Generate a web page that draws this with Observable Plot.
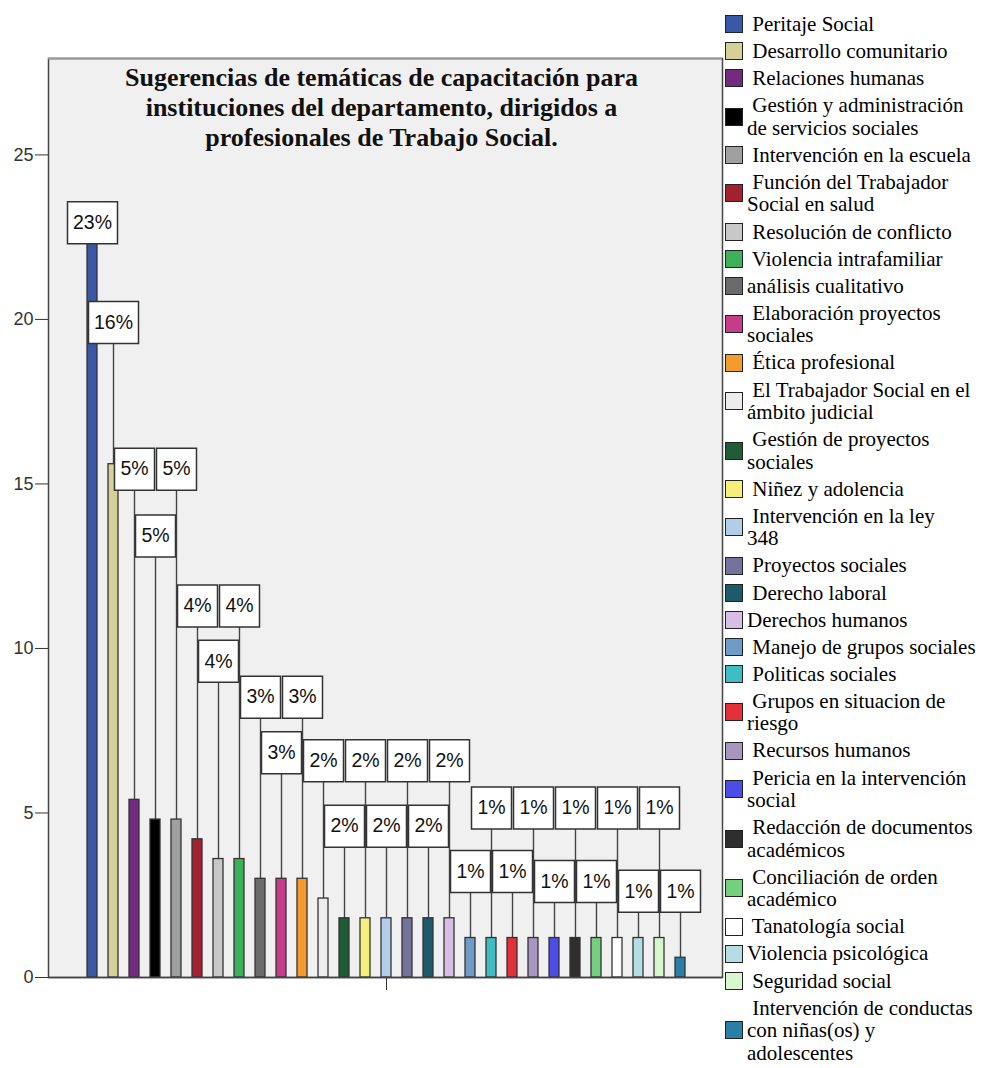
<!DOCTYPE html>
<html>
<head>
<meta charset="utf-8">
<script src="https://cdn.jsdelivr.net/npm/d3@7"></script>
<script src="https://cdn.jsdelivr.net/npm/@observablehq/plot@0.6"></script>
<style>
  html, body { margin: 0; padding: 0; background: #ffffff; }
  #wrap { position: relative; width: 982px; height: 1068px; overflow: hidden; }
  #chart { position: absolute; left: 0; top: 0; }
  #legend { position: absolute; left: 725px; top: 13px; font-family: "Liberation Serif", "Times New Roman", serif; font-size: 21px; color: #000; }
  .entry { display: flex; align-items: center; margin-bottom: 4.6px; }
  .sw { width: 16px; height: 16px; border: 1.5px solid #222; flex: none; }
  .txt { margin-left: 4px; white-space: pre; line-height: 22.5px; }
</style>
</head>
<body>
<div id="wrap">
  <div id="chart"></div>
  <div id="legend"></div>
</div>
<script>
const categories = [
  " Peritaje Social",
  " Desarrollo comunitario",
  " Relaciones humanas",
  " Gestión y administración\nde servicios sociales",
  " Intervención en la escuela",
  " Función del Trabajador\nSocial en salud",
  " Resolución de conflicto",
  " Violencia intrafamiliar",
  "análisis cualitativo",
  " Elaboración proyectos\nsociales",
  " Ética profesional",
  " El Trabajador Social en el\námbito judicial",
  " Gestión de proyectos\nsociales",
  " Niñez y adolencia",
  " Intervención en la ley\n348",
  " Proyectos sociales",
  " Derecho laboral",
  "Derechos humanos",
  " Manejo de grupos sociales",
  " Politicas sociales",
  " Grupos en situacion de\nriesgo",
  " Recursos humanos",
  " Pericia en la intervención\nsocial",
  " Redacción de documentos\nacadémicos",
  " Conciliación de orden\nacadémico",
  " Tanatología social",
  "Violencia psicológica",
  " Seguridad social",
  " Intervención de conductas\ncon niñas(os) y\nadolescentes"
];

const values = [22.8, 15.6, 5.4, 4.8, 4.8, 4.2, 3.6, 3.6, 3.0, 3.0, 3.0, 2.4,
  1.8, 1.8, 1.8, 1.8, 1.8, 1.8,
  1.2, 1.2, 1.2, 1.2, 1.2, 1.2, 1.2, 1.2, 1.2, 1.2, 0.6];

const pctLabels = ["23%", "16%", "5%", "5%", "5%", "4%", "4%", "4%", "3%", "3%", "3%", "2%",
  "2%", "2%", "2%", "2%", "2%", "2%",
  "1%", "1%", "1%", "1%", "1%", "1%", "1%", "1%", "1%", "1%", "1%"];

// level (in axis units) where each percentage label sits
const labelLevels = [22.3, 19.27, 14.81, 12.78, 14.81, 10.65, 8.97, 10.65, 7.88, 6.19, 7.88, 5.95,
  3.96, 5.95, 3.96, 5.95, 3.96, 5.95,
  2.58, 4.51, 2.58, 4.51, 2.28, 4.51, 2.28, 4.51, 1.98, 4.51, 1.98];

const colors = ["#3b58a8", "#d5cf98", "#722b7e", "#000000", "#a0a0a0", "#a3202e", "#c8c8c8", "#3db15a",
  "#6b6b6b", "#c53d8a", "#f39b2c", "#ececec", "#1e5b36", "#f4ef7a", "#b2cdea", "#74739c",
  "#1d5a6b", "#d8bde6", "#6e9cc7", "#3fbcc4", "#e3303a", "#a796c2", "#4c4ce8", "#2e2e2e",
  "#74cf7e", "#ffffff", "#b5dde4", "#d9f7cf", "#2b7ea5"];

const yTicks = [0, 5, 10, 15, 20, 25];
const yMax = 27.93;
const title = "Sugerencias de temáticas de capacitación para\ninstituciones del departamento, dirigidos a\nprofesionales de Trabajo Social.";

const data = categories.map((c, i) => ({cat: c, value: values[i], label: pctLabels[i], level: labelLevels[i]}));

const boxWide = {draw(ctx) { ctx.rect(-25, -21, 50, 42); }};
const boxNarrow = {draw(ctx) { ctx.rect(-20, -21, 40, 42); }};

const chart = Plot.plot({
  width: 725,
  height: 1068,
  marginTop: 58,
  marginBottom: 91,
  marginLeft: 48,
  marginRight: 3,
  style: {fontFamily: "'Liberation Sans', Arial, sans-serif", fontSize: "18px", color: "#333", background: "transparent", overflow: "visible"},
  x: {type: "band", domain: categories, range: [81.5, 690.5], paddingInner: 0.52, paddingOuter: 0.26,
      ticks: [categories[14]], tickFormat: () => "", tickSize: 13, label: null},
  y: {domain: [0, yMax], ticks: yTicks, tickSize: 13, tickPadding: 2, label: null},
  color: {domain: categories, range: colors},
  marks: [
    Plot.frame({fill: "#f0f0f0", stroke: "#444", strokeWidth: 1.5}),
    Plot.ruleY([yMax], {stroke: "#999", strokeWidth: 2}),
    Plot.text([title], {frameAnchor: "top", dx: -4, dy: 6, fontSize: 26, fontWeight: "bold",
      fontFamily: "'Liberation Serif', 'Times New Roman', serif", lineHeight: 1.15, fill: "#111"}),
    Plot.ruleX(data, {x: "cat", y1: "value", y2: "level", stroke: "#444", strokeWidth: 1.4}),
    Plot.barY(data, {x: "cat", y: "value", fill: "cat", stroke: "#333", strokeWidth: 1.3}),
    Plot.ruleY([0], {stroke: "#444", strokeWidth: 1.5}),
    Plot.dot(data.filter(d => d.label.length > 2), {x: "cat", y: "level", symbol: boxWide, r: 5, dy: -21,
      fill: "white", stroke: "#333", strokeWidth: 1.5}),
    Plot.dot(data.filter(d => d.label.length <= 2), {x: "cat", y: "level", symbol: boxNarrow, r: 5, dy: -21,
      fill: "white", stroke: "#333", strokeWidth: 1.5}),
    Plot.text(data, {x: "cat", y: "level", text: "label", dy: -21, fontSize: 19.5, fill: "#111"})
  ]
});
document.getElementById("chart").appendChild(chart);

const legend = document.getElementById("legend");
categories.forEach((c, i) => {
  const row = document.createElement("div");
  row.className = "entry";
  const sw = document.createElement("div");
  sw.className = "sw";
  sw.style.background = colors[i];
  const t = document.createElement("div");
  t.className = "txt";
  t.textContent = c;
  row.appendChild(sw);
  row.appendChild(t);
  legend.appendChild(row);
});
</script>
</body>
</html>
